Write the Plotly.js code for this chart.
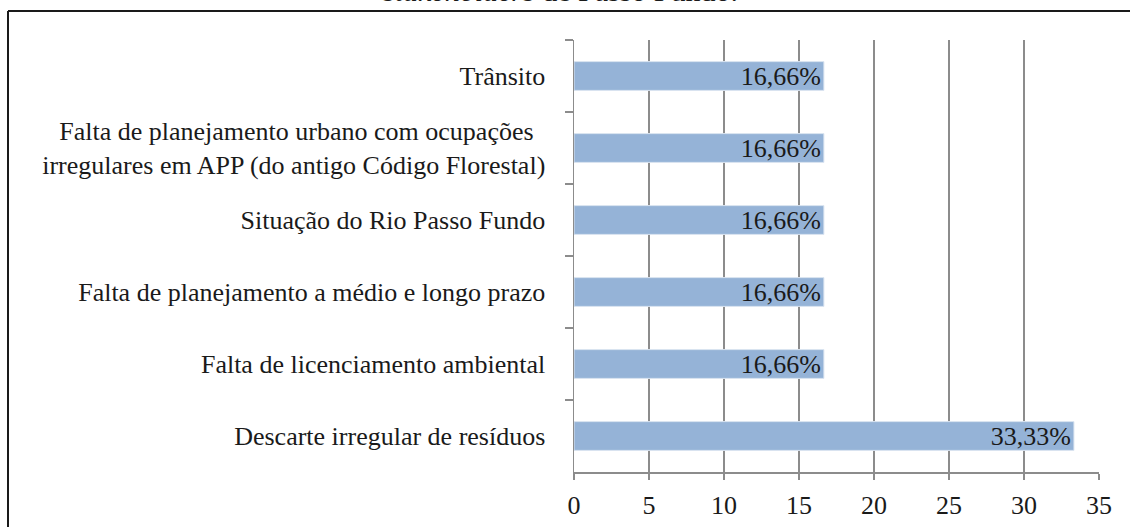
<!DOCTYPE html>
<html>
<head>
<meta charset="utf-8">
<script src="https://cdn.plot.ly/plotly-3.0.1.min.js"></script>
<style>
  html, body { margin: 0; padding: 0; background: #fff; }
  #chart { width: 1130px; height: 527px; }
</style>
</head>
<body>
<div id="chart"></div>
<script>
// Categories, listed top to bottom as shown
const categories = [
  "Trânsito",
  "Falta de planejamento urbano com ocupações\u00a0\u2009<br>irregulares em APP (do antigo Código Florestal)",
  "Situação do Rio Passo Fundo",
  "Falta de planejamento a médio e longo prazo",
  "Falta de licenciamento ambiental",
  "Descarte irregular de resíduos"
];
const values = [16.66, 16.66, 16.66, 16.66, 16.66, 33.33];
const xTickValues = [0, 5, 10, 15, 20, 25, 30, 35];
const titleText = "<i>stakeholders</i> de Passo Fundo.";

const labels = values.map(v => v.toFixed(2).replace('.', ',') + '%');

const FONT = "'Liberation Serif', 'Times New Roman', serif";

const trace = {
  type: 'bar',
  orientation: 'h',
  y: categories,
  x: values,
  text: labels,
  textposition: 'inside',
  insidetextanchor: 'end',
  constraintext: 'none',
  textfont: { family: FONT, size: 26, color: '#1a1a1a' },
  marker: { color: '#95B3D7', line: { color: '#dbe5f1', width: 1 } },
  hoverinfo: 'skip'
};

// plot area in pixels: left 574, right 1099, top 40, bottom 472
const L = 574, R = 1099, T = 40, B = 472;
const px2x = p => (p - L) / (R - L);
const px2y = p => (B - p) / (B - T);

const layout = {
  width: 1130,
  height: 527,
  margin: { l: L, r: 1130 - R, t: T, b: 527 - B, pad: 0 },
  paper_bgcolor: '#ffffff',
  plot_bgcolor: '#ffffff',
  showlegend: false,
  bargap: 0.6,
  font: { family: FONT, size: 26, color: '#1a1a1a' },
  xaxis: {
    range: [0, 35],
    tickvals: xTickValues,
    ticktext: xTickValues.map(String),
    showgrid: true,
    gridcolor: '#8c8c8c',
    gridwidth: 1.5,
    zeroline: false,
    showline: true,
    linecolor: '#8c8c8c',
    linewidth: 1.5,
    ticks: 'outside',
    ticklen: 6,
    tickwidth: 1.5,
    tickcolor: '#8c8c8c',
    ticklabelstandoff: 3,
    tickfont: { family: FONT, size: 26, color: '#1a1a1a' },
    fixedrange: true
  },
  yaxis: {
    type: 'category',
    autorange: 'reversed',
    tickson: 'boundaries',
    showgrid: false,
    zeroline: false,
    showline: true,
    linecolor: '#8c8c8c',
    linewidth: 1.5,
    ticks: 'outside',
    ticklen: 8,
    tickwidth: 1.5,
    tickcolor: '#8c8c8c',
    ticklabelstandoff: 22,
    tickfont: { family: FONT, size: 26, color: '#1a1a1a' },
    fixedrange: true
  },
  shapes: [
    { type: 'line', xref: 'paper', yref: 'paper',
      x0: px2x(8), x1: px2x(8), y0: px2y(11), y1: px2y(560),
      line: { color: '#1a1a1a', width: 2 } },
    { type: 'line', xref: 'paper', yref: 'paper',
      x0: px2x(8), x1: px2x(1140), y0: px2y(11), y1: px2y(11),
      line: { color: '#1a1a1a', width: 2 } }
  ],
  annotations: [
    { text: titleText, xref: 'paper', yref: 'paper',
      x: px2x(560), y: px2y(9), xanchor: 'center', yanchor: 'bottom',
      showarrow: false, font: { family: FONT, size: 30, color: '#1a1a1a' } }
  ]
};

Plotly.newPlot('chart', [trace], layout, { displayModeBar: false, staticPlot: true });
</script>
</body>
</html>
